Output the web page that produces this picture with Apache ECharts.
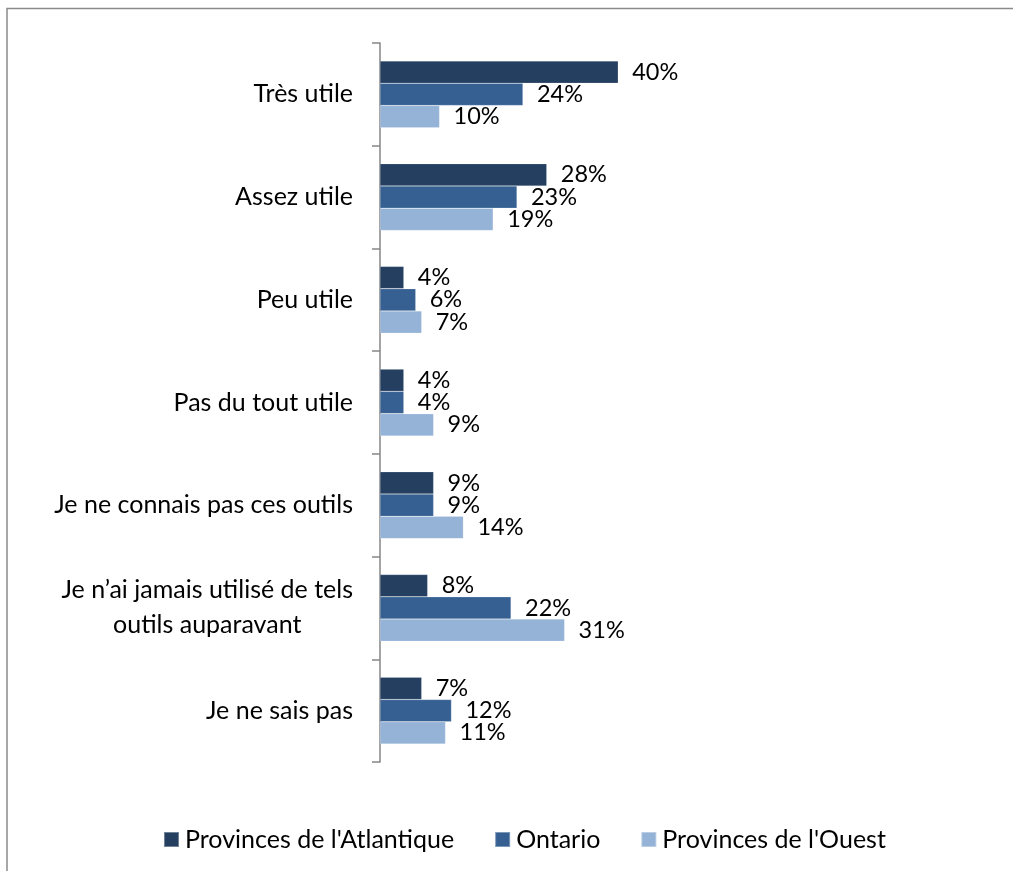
<!DOCTYPE html>
<html>
<head>
<meta charset="utf-8">
<script src="https://cdn.jsdelivr.net/npm/echarts@6/dist/echarts.min.js"></script>
<style>html,body{margin:0;padding:0;background:#fff;}#c{width:1013px;height:871px;}</style>
</head>
<body>
<div id="c"></div>
<script>
const categories = [
  "Très utile",
  "Assez utile",
  "Peu utile",
  "Pas du tout utile",
  "Je ne connais pas ces outils",
  "Je n’ai jamais utilisé de tels\noutils auparavant",
  "Je ne sais pas"
];
const seriesNames = ["Provinces de l'Atlantique", "Ontario", "Provinces de l'Ouest"];
const atlantique = [40, 28, 4, 4, 9, 8, 7];
const ontario = [24, 23, 6, 4, 9, 22, 12];
const ouest = [10, 19, 7, 9, 14, 31, 11];
const colors = ["#243F60", "#376092", "#95B3D7"];

const FONT = "Lato";
const chart = echarts.init(document.getElementById('c'), null, {renderer: 'canvas'});

function mkSeries(name, data, color) {
  return {
    name: name,
    type: 'bar',
    data: data,
    barGap: '0%',
    barCategoryGap: '35%',
    itemStyle: {color: color, borderColor: 'rgba(255,255,255,0.35)', borderWidth: 0.5},
    label: {
      show: true,
      position: 'right',
      distance: 14,
      formatter: '{c}%',
      color: '#000',
      fontFamily: FONT,
      fontSize: 23.5
    }
  };
}

chart.setOption({
  animation: false,
  backgroundColor: '#fff',
  color: colors,
  textStyle: {fontFamily: FONT},
  graphic: [{
    type: 'rect',
    shape: {x: 7, y: 8.5, width: 1030, height: 900},
    style: {fill: 'none', stroke: '#8a8a8a', lineWidth: 1.5},
    silent: true
  }],
  legend: {
    bottom: 14,
    left: 158,
    itemWidth: 15,
    itemHeight: 15,
    itemGap: 40,
    icon: 'rect',
    textStyle: {fontFamily: FONT, fontSize: 25, color: '#000', padding: [0, 0, 0, 1]},
    data: seriesNames
  },
  grid: {left: 380, top: 43, bottom: 109, width: 268, containLabel: false},
  xAxis: {
    type: 'value',
    min: 0,
    max: 45,
    show: false,
    splitLine: {show: false}
  },
  yAxis: {
    type: 'category',
    data: categories,
    inverse: true,
    axisLine: {show: true, lineStyle: {color: '#868686', width: 1.5}},
    axisTick: {show: true, length: 8, lineStyle: {color: '#868686', width: 1.5}},
    axisLabel: {
      margin: 27,
      color: '#000',
      fontFamily: FONT,
      fontSize: 25,
      lineHeight: 35,
      formatter: function (v) {
        return v.split('\n').map(function (s) { return '{c|' + s + '}'; }).join('\n');
      },
      rich: {c: {align: 'center', fontFamily: FONT, fontSize: 25, lineHeight: 35, color: '#000'}}
    }
  },
  series: [
    mkSeries(seriesNames[0], atlantique, colors[0]),
    mkSeries(seriesNames[1], ontario, colors[1]),
    mkSeries(seriesNames[2], ouest, colors[2])
  ]
});
</script>
</body>
</html>
